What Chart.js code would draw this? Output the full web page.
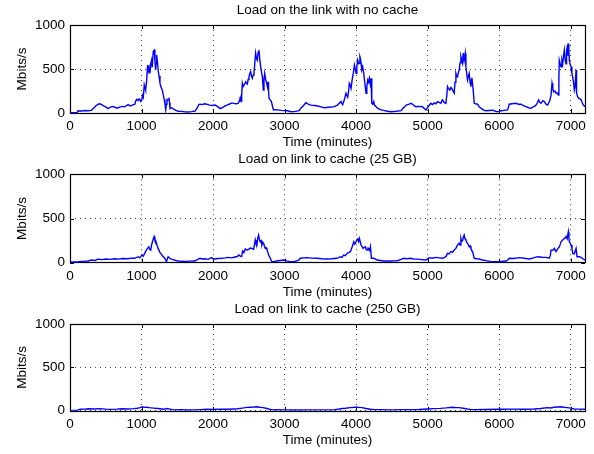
<!DOCTYPE html>
<html><head><meta charset="utf-8">
<script src="https://cdn.jsdelivr.net/npm/chart.js@4.4.1/dist/chart.umd.min.js"></script>
<style>
html,body{margin:0;padding:0;background:#fff;}
#wrap{position:relative;width:594px;height:454px;background:#fff;overflow:hidden;}
canvas{position:absolute;left:0;}
</style></head><body><div id="wrap">
<canvas id="c1" width="594" height="150" style="top:0px;width:594px;height:150px"></canvas>
<canvas id="c2" width="594" height="150" style="top:150px;width:594px;height:150px"></canvas>
<canvas id="c3" width="594" height="154" style="top:300px;width:594px;height:154px"></canvas>
</div>
<script>
// ---- data ----
const chartTitles = ["Load on the link with no cache", "Load on link to cache (25 GB)", "Load on link to cache (250 GB)"];
const xAxisTitle = "Time (minutes)";
const yAxisTitle = "Mbits/s";
const xTicks = [0, 1000, 2000, 3000, 4000, 5000, 6000, 7000];
const yTicks = [0, 500, 1000];
const xMax = 7200;
const yMax = 1000;

// Load with no cache (minutes, Mbits/s)
const timeNoCache = [0,100,112,160,200,250,299,330,360,393,420,440,470,500,533,560,590,627,660,700,740,767,790,814,840,870,907,920,931,950,965,978,990,1000,1015,1025,1038,1050,1057,1070,1085,1095,1105,1118,1130,1141,1150,1164,1178,1187,1197,1205,1211,1220,1235,1245,1258,1270,1291,1305,1319,1328,1338,1347,1356,1370,1384,1391,1398,1420,1450,1480,1515,1560,1600,1656,1700,1749,1780,1800,1819,1850,1880,1910,1950,1990,2030,2060,2100,2130,2170,2210,2240,2264,2290,2320,2350,2370,2380,2392,2400,2409,2420,2432,2443,2455,2467,2479,2490,2502,2514,2525,2537,2549,2560,2572,2583,2595,2607,2619,2630,2642,2654,2666,2677,2689,2703,2712,2722,2736,2750,2760,2769,2776,2783,2800,2815,2830,2844,2870,2900,2950,2993,3040,3087,3150,3203,3227,3260,3297,3330,3367,3420,3461,3510,3554,3620,3695,3740,3788,3800,3812,3835,3858,3870,3882,3895,3905,3915,3929,3945,3960,3976,3988,3999,4010,4022,4034,4046,4053,4060,4070,4079,4093,4107,4120,4139,4150,4163,4175,4186,4198,4209,4219,4232,4247,4256,4280,4303,4350,4396,4440,4490,4560,4630,4653,4680,4700,4740,4770,4790,4817,4835,4880,4928,4975,4998,5020,5045,5070,5091,5115,5138,5160,5185,5200,5208,5230,5255,5268,5278,5290,5311,5325,5339,5355,5371,5383,5395,5405,5418,5430,5441,5453,5465,5476,5488,5497,5510,5525,5535,5546,5558,5570,5581,5593,5605,5612,5619,5628,5637,5651,5670,5698,5721,5745,5768,5790,5815,5860,5908,5950,5978,6000,6025,6070,6118,6141,6180,6235,6270,6305,6340,6375,6410,6445,6475,6505,6530,6552,6570,6585,6610,6631,6655,6678,6695,6711,6725,6739,6750,6762,6780,6795,6810,6827,6835,6841,6853,6865,6877,6888,6900,6911,6923,6935,6942,6949,6958,6967,6974,6981,6993,7005,7017,7028,7040,7051,7062,7075,7080,7084,7100,7112,7130,7145,7160,7177,7190,7205];
const loadNoCache = [3,3,25,22,28,25,30,55,80,100,105,95,80,70,50,65,75,65,55,70,75,70,85,95,80,90,100,140,155,140,160,150,130,140,200,180,320,280,260,350,545,480,520,450,560,600,520,700,715,600,490,560,660,600,470,420,340,300,260,200,150,100,35,100,155,150,165,120,50,60,45,30,20,18,15,12,15,22,60,95,100,95,105,100,90,85,90,75,50,60,80,95,105,115,110,105,110,140,175,130,200,337,300,300,330,355,340,330,380,410,450,470,420,395,430,450,560,680,620,600,690,715,600,525,470,410,260,380,450,380,337,300,355,250,165,150,130,80,35,38,35,30,27,25,15,18,27,55,80,117,100,90,85,80,70,60,65,72,90,130,110,95,150,225,200,180,250,337,320,280,380,450,545,500,450,530,600,560,565,640,620,560,490,520,450,350,225,300,375,350,395,330,395,110,100,130,90,70,53,35,27,20,15,20,27,53,70,90,100,110,100,80,72,75,72,35,60,85,110,95,115,105,130,120,110,140,150,120,110,200,300,280,260,290,280,250,225,350,450,420,410,460,490,570,640,600,565,680,600,680,525,450,375,420,450,350,300,380,400,330,260,110,105,100,72,55,42,30,25,28,32,20,15,18,25,30,35,100,105,110,100,100,85,72,60,53,70,80,110,150,120,110,140,130,100,90,120,150,200,337,280,240,250,225,230,205,400,600,560,525,600,560,650,715,600,560,700,735,650,790,700,600,550,525,450,410,350,260,300,490,300,225,180,165,160,150,120,90,80,72];

// Load on link to cache, 25 GB
const time25GB = [0,60,112,180,252,299,350,392,450,500,560,620,680,740,800,860,905,952,975,1008,1025,1045,1065,1083,1101,1115,1129,1140,1153,1165,1176,1186,1195,1209,1220,1232,1255,1279,1300,1325,1349,1360,1372,1395,1420,1442,1480,1512,1600,1680,1745,1780,1815,1850,1885,1930,1979,2000,2025,2070,2119,2170,2212,2260,2305,2340,2361,2380,2399,2413,2430,2450,2475,2497,2520,2543,2567,2590,2600,2613,2625,2637,2648,2660,2672,2683,2695,2707,2720,2730,2742,2753,2765,2777,2800,2823,2860,2893,2940,2987,3030,3080,3140,3197,3220,3265,3313,3380,3453,3520,3593,3660,3733,3780,3800,3827,3850,3873,3895,3920,3945,3967,3980,3990,4005,4023,4035,4046,4060,4069,4085,4097,4115,4130,4140,4153,4165,4177,4190,4200,4214,4247,4270,4293,4340,4387,4480,4573,4620,4667,4710,4760,4807,4858,4920,4975,5021,5060,5115,5160,5208,5255,5278,5300,5325,5350,5371,5395,5418,5441,5453,5465,5476,5488,5500,5511,5523,5535,5546,5558,5570,5581,5593,5605,5617,5628,5640,5651,5690,5721,5770,5815,5880,5955,6020,6095,6120,6141,6200,6281,6350,6421,6480,6538,6600,6655,6701,6715,6725,6750,6771,6785,6795,6820,6841,6855,6865,6880,6900,6911,6925,6935,6950,6967,6975,6981,6993,7005,7018,7028,7050,7075,7089,7121,7145,7170,7200];
const load25GB = [5,8,10,15,19,30,25,40,35,42,38,45,40,48,45,50,50,68,55,87,75,105,140,162,180,150,143,200,237,270,295,260,256,220,190,162,120,94,70,50,10,40,68,50,40,35,25,19,15,18,19,35,50,42,45,38,57,45,42,48,50,55,60,55,64,70,87,75,70,132,115,155,145,150,165,162,150,257,220,200,280,313,260,237,250,200,230,220,180,162,170,150,120,87,50,10,15,19,25,30,20,10,15,30,50,55,57,52,50,45,42,45,50,68,60,87,80,105,115,125,180,237,210,220,250,268,240,275,230,200,180,162,175,180,150,143,165,162,140,180,50,50,40,30,25,19,20,22,35,50,45,50,42,40,35,30,57,50,60,55,50,68,105,100,125,120,143,162,200,220,200,275,240,250,290,313,270,257,230,220,200,180,190,162,140,125,90,50,45,42,30,23,15,11,15,19,30,50,48,57,50,42,55,68,62,60,50,80,143,140,162,140,125,160,180,210,237,250,265,275,280,295,270,350,280,237,220,200,160,105,100,162,68,68,60,45,30];

// Load on link to cache, 250 GB
const time250GB = [0,100,140,200,260,330,420,500,560,653,720,800,887,940,980,1013,1040,1073,1110,1167,1230,1307,1353,1400,1447,1550,1650,1740,1820,1913,2000,2100,2200,2287,2340,2380,2430,2473,2520,2570,2613,2650,2700,2753,2823,2900,3000,3100,3220,3350,3500,3687,3740,3780,3850,3920,3990,4040,4083,4140,4200,4260,4340,4500,4650,4853,4930,4993,5080,5180,5260,5343,5400,5437,5500,5553,5600,5647,5800,6020,6200,6350,6487,6580,6673,6720,6767,6810,6860,6900,6953,7000,7047,7120,7200];
const load250GB = [2,3,16,18,22,20,24,18,15,18,22,20,24,28,35,45,38,40,35,30,25,16,25,18,10,12,8,10,12,16,14,18,16,20,22,27,32,38,40,42,45,40,35,25,10,12,10,8,8,10,9,10,16,23,28,35,40,38,35,25,16,12,12,10,12,12,16,20,24,27,32,39,36,35,28,20,15,12,14,16,18,17,20,26,35,32,39,42,46,40,35,30,20,18,16];

// ---- layout per panel ----
const panels = [
  {id:'c1', title: chartTitles[0], times: timeNoCache, values: loadNoCache, h:150, tPadTop:2.5, tPadBot:6.3, plotBottom:113, xtPadBot:0.5},
  {id:'c2', title: chartTitles[1], times: time25GB, values: load25GB, h:150, tPadTop:1.6, tPadBot:6.5, plotBottom:112.7, xtPadBot:0.5},
  {id:'c3', title: chartTitles[2], times: time250GB, values: load250GB, h:154, tPadTop:0.8, tPadBot:7.0, plotBottom:110.7, xtPadBot:6.5}
];

const FONT = "'Liberation Sans', Arial, Helvetica, sans-serif";
Chart.defaults.font.family = FONT;
Chart.defaults.font.size = 13.5;
Chart.defaults.color = '#000';

const framePlugin = {
  id: 'frame',
  beforeDatasetsDraw(chart) {
    const {ctx, chartArea: a, scales: {x, y}} = chart;
    ctx.save();
    ctx.strokeStyle = '#000';
    ctx.lineWidth = 1;
    ctx.setLineDash([]);
    ctx.beginPath();
    x.ticks.forEach(t => {
      const px = Math.round(x.getPixelForValue(t.value)) + 0.5;
      ctx.moveTo(px, a.bottom); ctx.lineTo(px, a.bottom - 4);
      ctx.moveTo(px, a.top); ctx.lineTo(px, a.top + 4);
    });
    y.ticks.forEach(t => {
      const py = Math.round(y.getPixelForValue(t.value)) + 0.5;
      ctx.moveTo(a.left, py); ctx.lineTo(a.left + 4, py);
      ctx.moveTo(a.right, py); ctx.lineTo(a.right - 4, py);
    });
    ctx.stroke();
    ctx.lineWidth = 1.2;
    ctx.strokeRect(Math.round(a.left) + 0.5, Math.round(a.top) + 0.5, Math.round(a.right - a.left), Math.round(a.bottom - a.top));
    ctx.restore();
  }
};

panels.forEach(p => {
  const ctx = document.getElementById(p.id).getContext('2d');
  new Chart(ctx, {
    type: 'line',
    data: {
      datasets: [{
        data: p.times.map((t, i) => ({x: t, y: p.values[i]})),
        borderColor: '#0000ff',
        borderWidth: 1.4,
        pointRadius: 0,
        tension: 0,
        fill: false
      }]
    },
    options: {
      responsive: false,
      animation: false,
      devicePixelRatio: 1,
      layout: {padding: {left: 0, right: 9, top: 0, bottom: 0}},
      plugins: {
        legend: {display: false},
        tooltip: {enabled: false},
        title: {
          display: true,
          fullSize: false,
          text: p.title,
          font: {size: 13.5, weight: 'normal', family: FONT, lineHeight: 1.2},
          color: '#000',
          padding: {top: p.tPadTop, bottom: p.tPadBot}
        }
      },
      scales: {
        x: {
          type: 'linear',
          min: 0, max: xMax,
          afterBuildTicks: s => { s.ticks = xTicks.map(v => ({value: v})); },
          afterFit: s => { s.height = p.h - p.plotBottom; },
          ticks: {padding: 5, maxRotation: 0, autoSkip: false, callback: v => String(v)},
          grid: {color: 'rgba(0,0,0,0.75)', lineWidth: 1, drawTicks: false},
          border: {display: false, dash: [1, 4]},
          title: {display: true, text: xAxisTitle, font: {size: 13.5, lineHeight: 1}, padding: {top: 0, bottom: p.xtPadBot}}
        },
        y: {
          type: 'linear',
          min: 0, max: yMax,
          afterBuildTicks: s => { s.ticks = yTicks.map(v => ({value: v})); },
          afterFit: s => { s.width = 70; },
          ticks: {padding: 5, callback: v => String(v)},
          grid: {color: 'rgba(0,0,0,0.75)', lineWidth: 1, drawTicks: false},
          border: {display: false, dash: [1, 4]},
          title: {display: true, text: yAxisTitle, font: {size: 13.5, lineHeight: 1.2}, padding: {top: 14.5, bottom: 0}}
        }
      }
    },
    plugins: [framePlugin]
  });
});
</script>
</body></html>
